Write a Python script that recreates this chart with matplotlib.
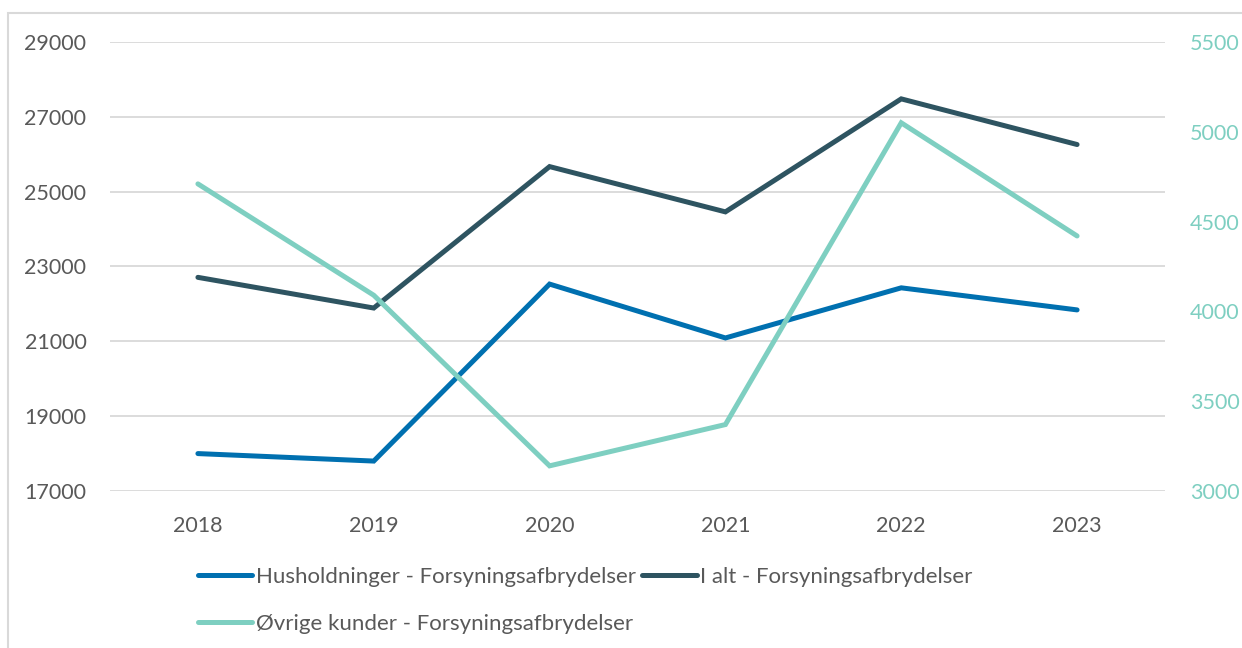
import matplotlib.pyplot as plt
from matplotlib.patches import Rectangle

years = ["2018", "2019", "2020", "2021", "2022", "2023"]
husholdninger = [18000, 17800, 22530, 21090, 22430, 21840]
i_alt = [22710, 21890, 25670, 24460, 27480, 26260]
oevrige = [4710, 4090, 3140, 3370, 5050, 4420]

left_ticks = [17000, 19000, 21000, 23000, 25000, 27000, 29000]
right_ticks = [3000, 3500, 4000, 4500, 5000, 5500]

blue = "#0070B0"
dark = "#2E5461"
teal = "#7ECFC1"
grey_txt = "#595959"
grid_col = "#D9D9D9"

plt.rcParams['font.family'] = ['Lato', 'DejaVu Sans']

fig = plt.figure(figsize=(12.42, 6.48), dpi=100)
ax = fig.add_axes([110 / 1242, 1 - 491 / 648, 1055 / 1242, 449 / 648])
ax2 = ax.twinx()

x = list(range(len(years)))
l1, = ax.plot(x, husholdninger, color=blue, lw=3.6, solid_capstyle='round', solid_joinstyle='miter',
              label="Husholdninger - Forsyningsafbrydelser", zorder=3)
l2, = ax.plot(x, i_alt, color=dark, lw=3.6, solid_capstyle='round', solid_joinstyle='miter',
              label="I alt - Forsyningsafbrydelser", zorder=3)
l3, = ax2.plot(x, oevrige, color=teal, lw=3.6, solid_capstyle='round', solid_joinstyle='miter',
               label="Øvrige kunder - Forsyningsafbrydelser", zorder=3)

ax.set_xlim(-0.5, 5.5)
ax.set_ylim(17000, 29000)
ax2.set_ylim(3000, 5500)
ax.set_xticks(x)
ax.set_xticklabels(years)
ax.set_yticks(left_ticks)
ax2.set_yticks(right_ticks)

ax.grid(axis='y', color=grid_col, lw=1.3)
ax.set_axisbelow(True)
for a in (ax, ax2):
    for s in a.spines.values():
        s.set_visible(False)
ax.tick_params(axis='both', length=0, labelsize=15.5, labelcolor=grey_txt)
ax.tick_params(axis='y', pad=17)
ax.tick_params(axis='x', pad=18)
ax2.tick_params(axis='y', length=0, labelsize=15.5, labelcolor=teal, pad=18)

ax.legend([l1, l3, l2], [l1.get_label(), l3.get_label(), l2.get_label()],
          ncol=2, frameon=False, fontsize=16, labelcolor=grey_txt,
          handlelength=2.45, handletextpad=0.15, columnspacing=0.3,
          labelspacing=1.2, loc='upper left',
          bbox_to_anchor=(198 / 1242, 1 - 567 / 648), bbox_transform=fig.transFigure,
          borderaxespad=0, borderpad=0)

fig.patches.append(Rectangle((8 / 1242, -0.01), 1.05, 1 - 13 / 648 + 0.01,
                             transform=fig.transFigure, fill=False,
                             edgecolor=grid_col, lw=1.5))

fig.savefig("out.png", dpi=100)
